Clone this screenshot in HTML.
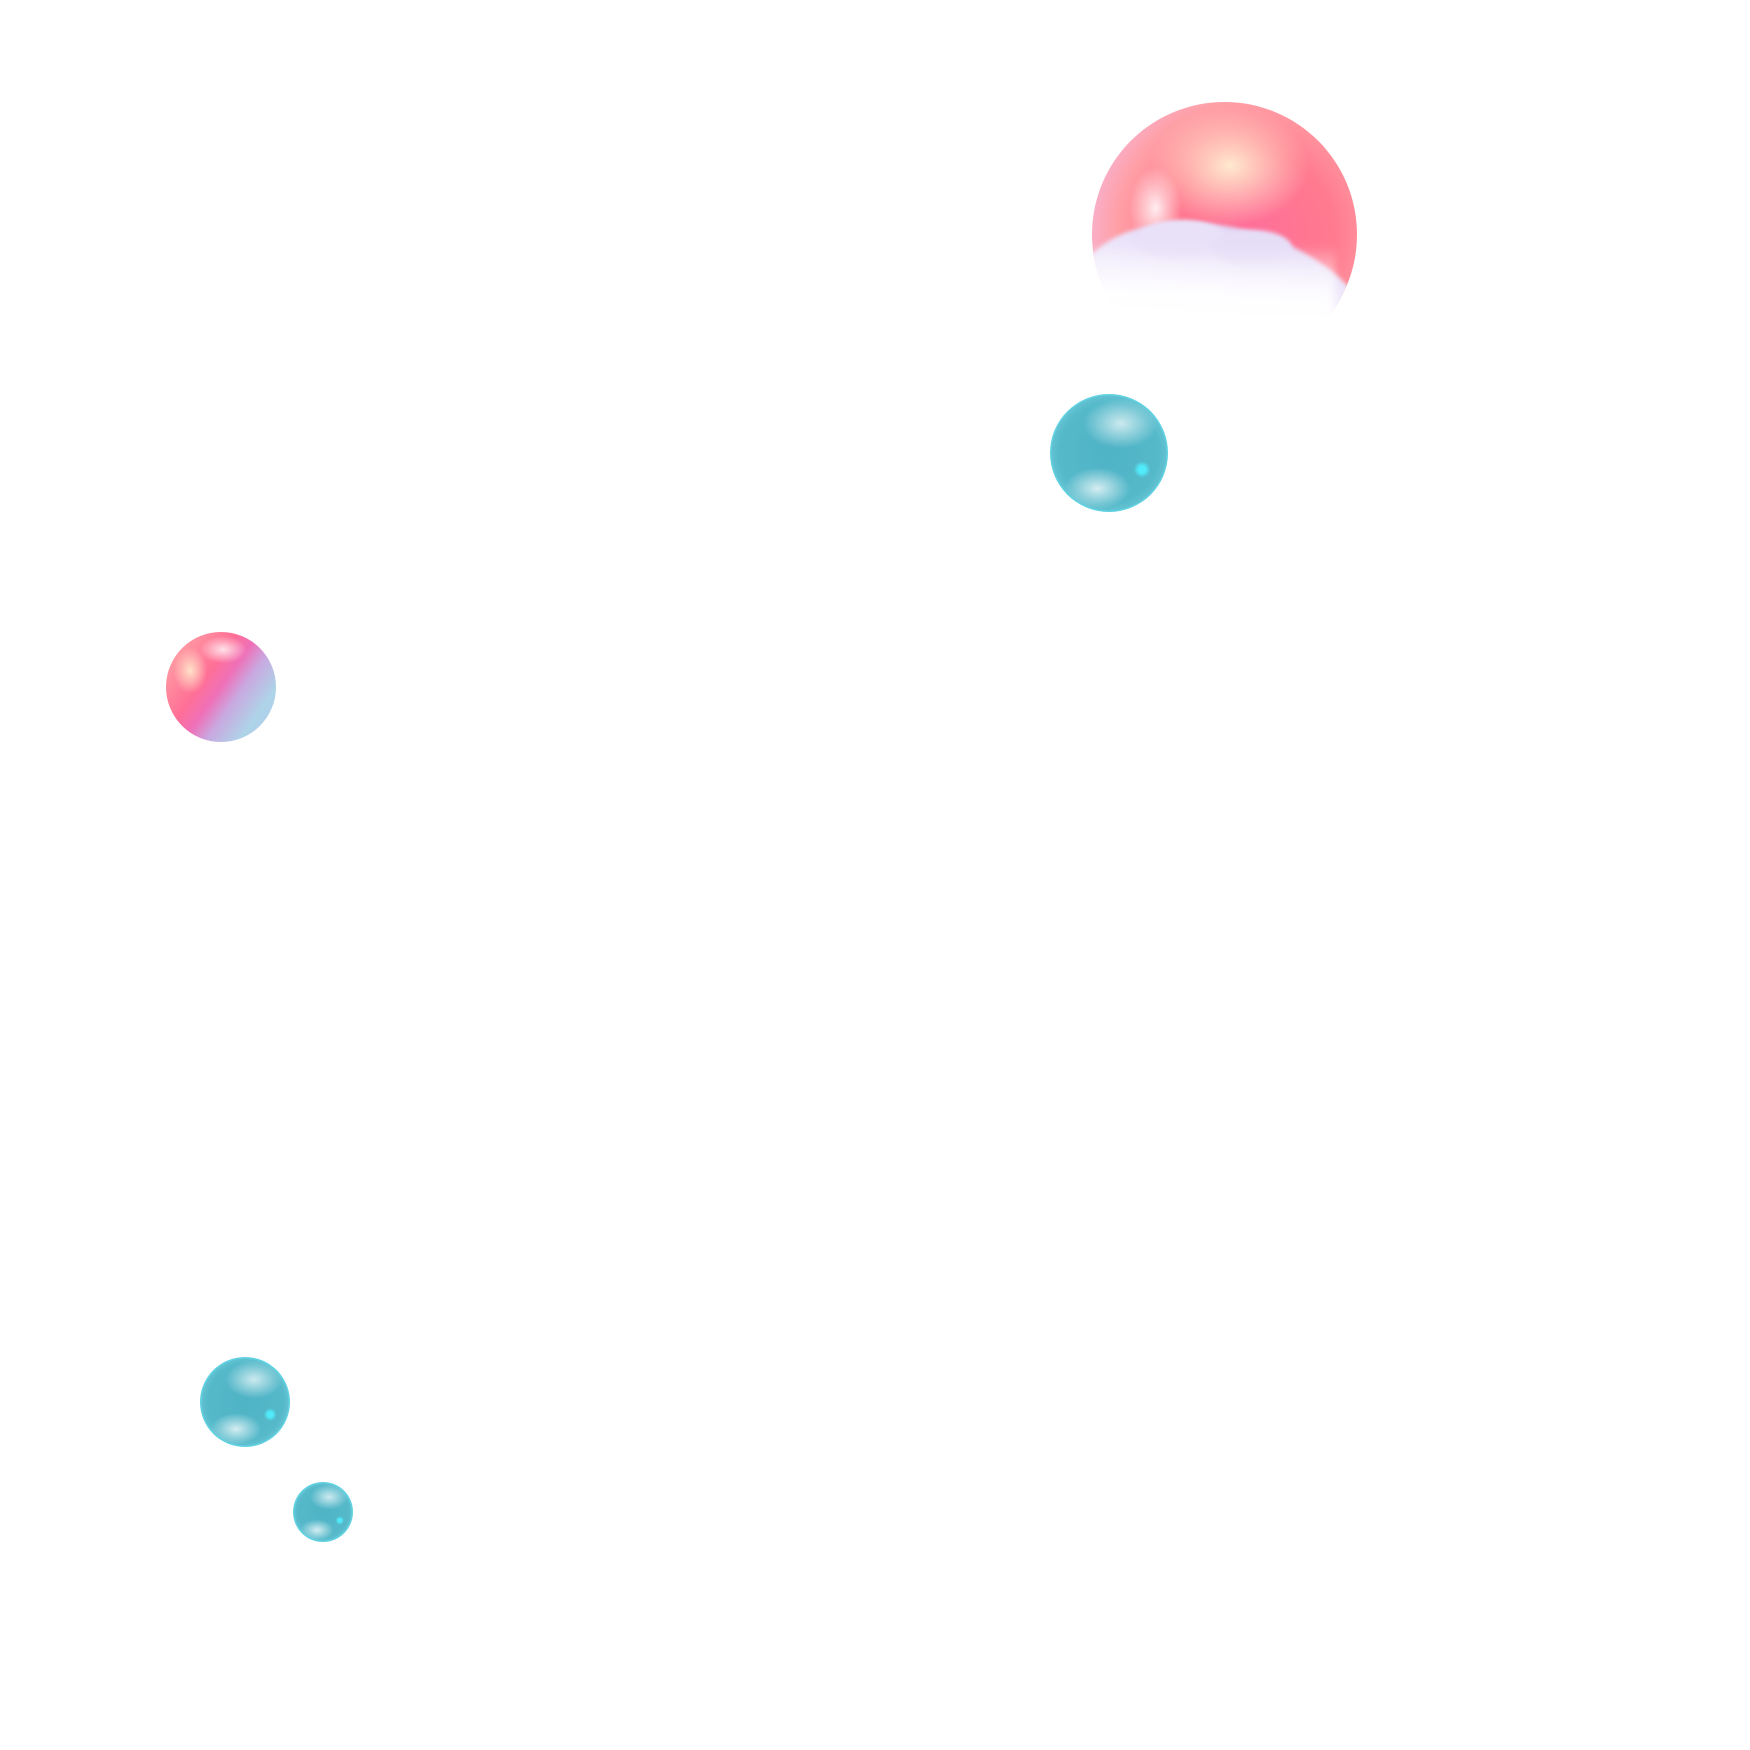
<!DOCTYPE html>
<html><head><meta charset="utf-8"><style>
html,body{margin:0;padding:0;background:#fff;width:1750px;height:1750px;overflow:hidden;position:relative}
.b{position:absolute;border-radius:50%}
.teal{background:
 radial-gradient(circle at 78% 64%, rgba(80,240,255,.9) 0 3%, transparent 7%),
 radial-gradient(ellipse 40% 25% at 40% 80%, rgba(255,255,255,.75), transparent 70%),
 radial-gradient(ellipse 45% 30% at 60% 25%, rgba(255,255,255,.7), transparent 70%),
 radial-gradient(circle at 50% 50%, #4fb3c6 0%, #55b9ca 60%, #7fd3df 88%, #b6ecf2 97%);
 box-shadow:inset 0 0 0 1.5px #5fd3e3}
</style></head><body>
<!-- big sphere -->
<div class="b" style="left:1092px;top:102px;width:265px;height:265px;overflow:hidden;background:
 radial-gradient(ellipse 14% 22% at 24% 40%, rgba(255,255,255,.85), transparent 70%),
 radial-gradient(ellipse 40% 30% at 52% 24%, #ffe9cf, transparent 75%),
 radial-gradient(circle at 60% 50%, #ff6f9a 0%, #ff7a8e 40%, #ff9fa6 65%, #f5b9dd 85%, #d3b3f2 100%);">
 <div style="position:absolute;left:-20px;top:125px;width:300px;height:220px;background:linear-gradient(180deg,#e2d8f6 0%,#f1ebfc 25%,#fff 55%);border-radius:45% 55% 0 0/35% 45% 0 0;transform:rotate(10deg);filter:blur(2px)"></div>
 <div style="position:absolute;left:45px;top:118px;width:90px;height:40px;background:#e9e1f8;border-radius:50%;filter:blur(2px)"></div>
 <div style="position:absolute;left:120px;top:128px;width:80px;height:36px;background:#e6ddf7;border-radius:50%;filter:blur(2px)"></div>
</div>
<div class="b" style="left:1085px;top:245px;width:250px;height:150px;border-radius:0;background:linear-gradient(180deg,rgba(255,255,255,0) 0%,rgba(255,255,255,.8) 30%,#fff 55%);filter:blur(4px)"></div>
<!-- teal bubbles -->
<div class="b teal" style="left:1050px;top:394px;width:118px;height:118px"></div>
<div class="b teal" style="left:200px;top:1357px;width:90px;height:90px"></div>
<div class="b teal" style="left:293px;top:1482px;width:60px;height:60px"></div>
<!-- pink small -->
<div class="b" style="left:166px;top:632px;width:110px;height:110px;background:
 radial-gradient(ellipse 30% 18% at 52% 16%, rgba(255,255,255,.8), transparent 70%),
 radial-gradient(ellipse 22% 30% at 22% 35%, #ffe1c8, transparent 70%),
 linear-gradient(125deg,#ffb0a8 0%,#ff6f96 38%,#ef70b8 50%,#c9a8e0 62%,#aed4e8 80%,#b0c9f0 100%);"></div>
</body></html>
